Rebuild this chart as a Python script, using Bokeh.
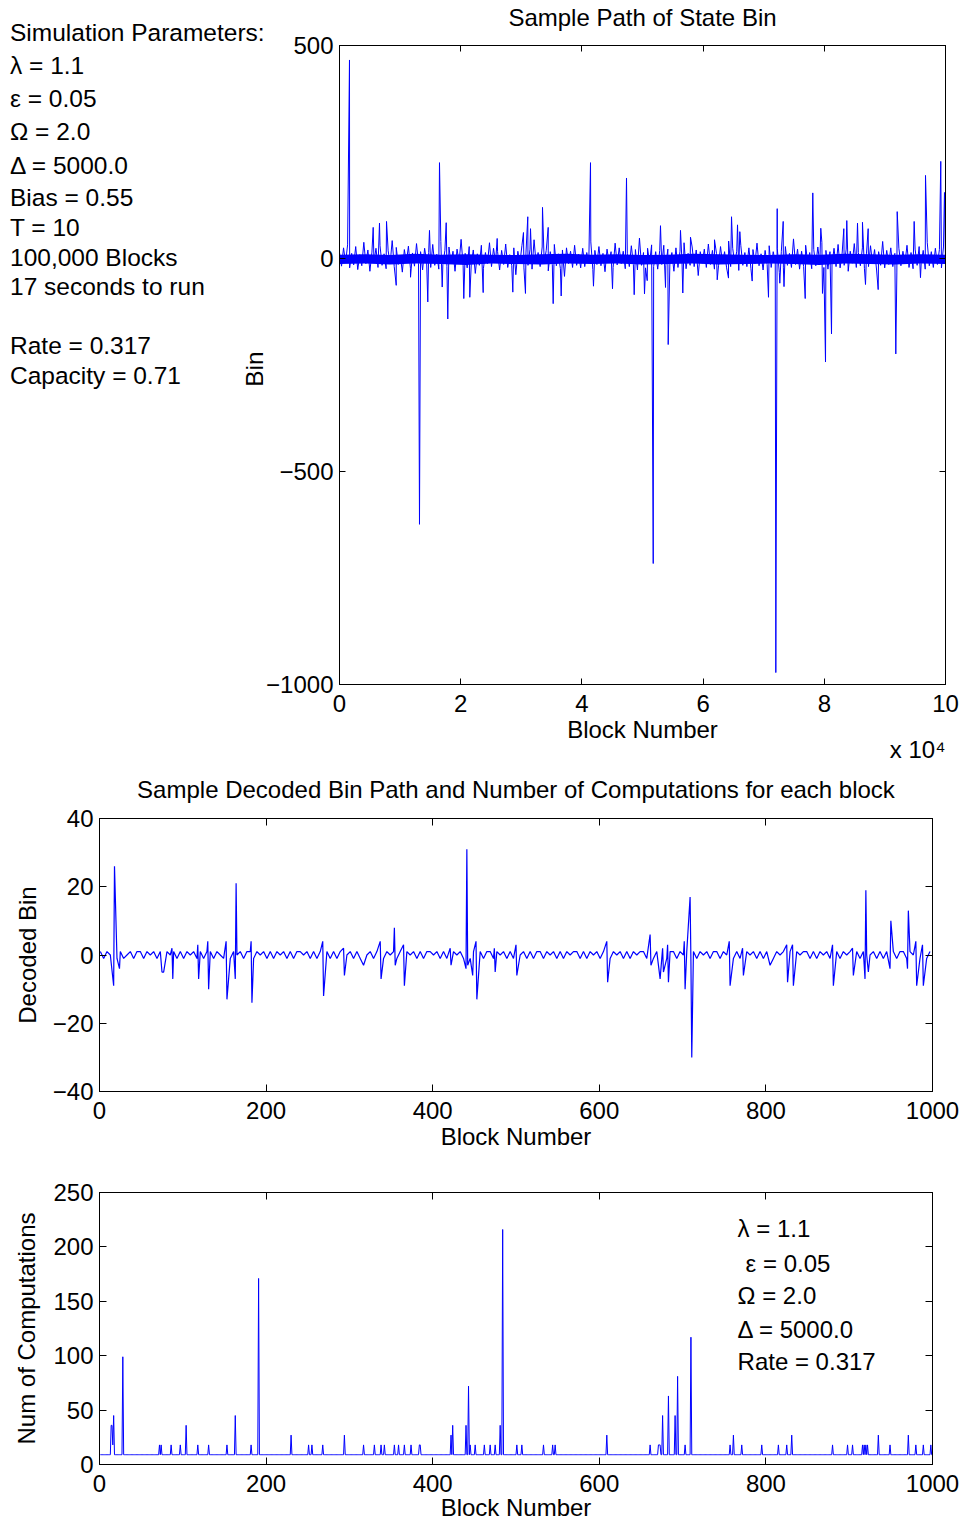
import numpy as np
from bokeh.plotting import figure
from bokeh.models import Range1d, LinearAxis, Label, FixedTicker, Div, Title
from bokeh.layouts import row
from bokeh.embed import file_html
from bokeh.resources import INLINE

FONT = "Liberation Sans"
BLUE = "#0000ff"

# ---------------- data: top panel (state bin sample path) ----------------
state_noise = [
    14, -18, 25, -10, 32, -22, 12, -15, 28, -26, 9, -17, 38, -12, 20, -30, 15, -8, 24, -21,
    30, -16, 11, -24, 18, -11, 42, -19, 26, -14, 8, -32, 21, -9, 29, -23, 13, -18, 35, -12,
    16, -27, 24, -8, 14, -21, 33, -16, 10, -25, 40, -14, 19, -19, 27, -11, 17, -30, 22, -9,
    45, -17, 12, -22, 28, -14, 20, -35, 11, -16, 31, -24, 14, -12, 37, -19, 24, -10, 16, -27,
    19, -14, 34, -21, 9, -17, 25, -38, 17, -11, 30, -22, 13, -16, 22, -25, 44, -12, 14, -19,
    27, -9, 19, -29, 16, -14, 33, -17, 11, -24, 20, -42, 25, -12, 17, -21, 31, -16, 10, -22,
    24, -19, 14, -11, 39, -26, 19, -14, 28, -17, 12, -31, 22, -9, 16, -21, 36, -15, 25, -12,
    17, -24, 11, -19, 30, -14, 21, -27, 48, -16, 14, -22, 24, -11, 32, -19, 16, -25, 19, -14,
    31, -17, 22, -12, 14, -30, 25, -21, 17, -9, 37, -24, 12, -16, 27, -19, 20, -40, 16, -11,
    22, -21, 34, -14, 19, -25, 12, -17, 28, -11, 16, -22, 41, -19, 24, -12, 17, -28, 31, -16,
    14, -19, 25, -24, 21, -12, 36, -17, 11, -27, 19, -14, 30, -21, 16, -9, 24, -33, 17, -22,
    28, -16, 12, -21, 46, -14, 22, -25, 17, -19, 31, -11, 14, -24, 21, -17, 27, -12, 38, -21,
    19, -25, 16, -14, 24, -19, 33, -22, 12, -16, 22, -30, 17, -11, 35, -21, 14, -17, 25, -24,
    11, -19, 30, -12, 21, -27, 16, -16, 40, -22, 19, -14, 25, -19, 12, -34, 24, -17, 17, -11,
    31, -21, 14, -24, 22, -16, 28, -12, 19, -25, 37, -17, 16, -21, 24, -14, 21, -22, 27, -8,
]
# solid core of the dense band (upper / lower edge)
state_core_hi = [9, 10, 8, 11, 9, 10, 9, 8, 10, 11, 9, 10, 8, 9, 11, 10, 9, 8, 10, 9, 11, 10, 9, 10, 9]
state_core_lo = [-13, -12, -14, -12, -13, -15, -12, -13, -14, -12, -13, -12, -14, -13, -12, -14,
                 -13, -12, -13, -15, -12, -13, -14, -12, -13]
state_spike_blocks = [
    1650, 5560, 6600, 7760, 9360, 11720, 13200, 14570, 14850, 16500, 16950, 17610, 17870,
    20510, 21500, 23710, 26020, 28600, 30360, 30690, 31070, 31520, 33500, 34440, 35260,
    36580, 41420, 41910, 45050, 47360, 48630, 50330, 50780, 51770, 52970, 53800, 54240,
    56270, 56650, 57920, 61880, 62330, 64190, 64690, 65680, 66060, 68100, 70790, 72000,
    72230, 72660, 73220, 73350, 76850, 78100, 79420, 79700, 80200, 81190, 83220, 83710,
    85480, 86300, 86800, 87240, 88890, 91800, 92030, 94830, 95870, 96700, 99220, 99830,
]
state_spike_bins = [
    466, 73, 83, 87, -63, -44, -624, -102, 66, 225, -67, 84, -142,
    -94, -91, -80, 47, -79, 61, -82, 98, 70, 120, 73, -106,
    -88, 225, -65, -71, 189, -85, -83, -52, -716, 77, -68, -202,
    66, -81, 50, 44, -50, -46, 98, 79, 63, -53, -91, -972,
    117, -58, 87, -66, -94, 154, 71, -82, -243, -177, 70, 89,
    83, 85, -61, 70, -73, -224, 110, 87, -45, 195, 228, 155,
]
top_xticks = [0, 20000, 40000, 60000, 80000, 100000]
top_xtick_labels = ["0", "2", "4", "6", "8", "10"]
top_yticks = [-1000, -500, 0, 500]
top_ytick_labels = ["\u22121000", "\u2212500", "0", "500"]
param_lines = [
    "Simulation Parameters:", "\u03bb = 1.1", "\u03b5 = 0.05", "\u03a9 = 2.0",
    "\u0394 = 5000.0", "Bias = 0.55", "T = 10", "100,000 Blocks", "17 seconds to run",
    "Rate = 0.317", "Capacity = 0.71",
]
param_line_rows = [34, 67, 100, 133, 167, 199, 229, 259, 288, 347, 377]

# ---------------- data: middle panel (decoded bin) ----------------
decoded_noise = [
    1, -1, 1, 0, 1, -1, 1, -1, 0, 1, -1, 1, 1, -1, 1, 0, 1, -1, 1, -1, 1, 0, 1, -1, 1,
    -1, 1, 0, 1, -1, 1, -1, 1, 1, -1, 1, 0, -1, 1, -1, 1, 0, 1, -1, 1, 1, -1, 1, 0, 1,
    -1, 1, -1, 1, 0, 1, -1, 1, -1, 1, 1, 0, 1, -1, 1, -1, 1, 0, 1, -1, 1, -1, 1, 1, 0,
    1, -1, 1, -1, 1, 0, 1, -1, 1, 1, -1, 1, 0, 1, -1, 1, -1, 1, 0, 1, -1, 1, -1, 1, 1,
    0, 1, -1, 1, -1, 1, 1, 0, 1, -1, 1, -1, 1, 0, 1, -1, 1, 1, -1, 1, 0, 1, -1, 1, -1,
    1, 0, 1, -1, 1, -1, 1, 1, -1, 1, 0, 1, -1, 1, -1, 1, 0, 1, 1, -1, 1, -1, 1, 0, 1,
    -1, 1, 1, -1, 1, 0, 1, -1, 1, -1, 1, 0, 1, 1, -1, 1, -1, 1, 0, 1, -1, 1, 1, -1, 1,
    0, 1, -1, 1, -1, 1, 0, 1, -1, 1, 1, -1, 1, 0, 1, -1, 1, -1, 1, 1, 0, 1, -1, 1, -1,
    1, 1, -1, 1, 0, 1, -1, 1, -1, 1, 0, 1, 1, -1, 1, -1, 1, 0, 1, -1, 1, 1, -1, 1, 0,
    1, -1, 1, -1, 1, 1, 0, 1, -1, 1, -1, 1, 0, 1, -1, 1, 1, -1, 1, 0, 1, -1, 1, -1, 1,
]
decoded_spike_blocks = [
    17, 18, 24, 75, 76, 77, 87, 88, 118, 119, 130, 131, 152, 153, 163, 164, 182, 183,
    268, 269, 293, 294, 317, 337, 338, 354, 355, 365, 366, 421, 422, 440, 441, 442, 448,
    452, 453, 474, 475, 500, 501, 609, 610, 661, 662, 673, 676, 677, 682, 683, 702, 703,
    709, 710, 711, 756, 757, 772, 773, 805, 825, 826, 832, 833, 880, 881, 904, 905, 919,
    920, 921, 923, 949, 950, 970, 971, 980, 981, 988, 989,
]
decoded_spike_bins = [
    -9, 26, -4, -5, -5, -5, 2, -7, 3, -7, 4, -10, 4, -13, -7, 21, 4, -14,
    4, -12, 2, -6, -3, 4, -7, 8, -3, 3, -9, 2, -3, -4, 31, -3, -6,
    4, -13, 2, -5, 3, -6, 4, -8, 6, -3, -7, 2, -5, 3, -8, 4, -10,
    17, -2, -30, 4, -9, 2, -6, -3, 3, -8, 3, -9, 3, -9, 2, -6, -7,
    19, 0, -5, -4, 10, -4, 13, 4, -9, 3, -9,
]
blk_xticks = [0, 200, 400, 600, 800, 1000]
mid_yticks = [-40, -20, 0, 20, 40]
mid_ytick_labels = ["\u221240", "\u221220", "0", "20", "40"]

# ---------------- data: bottom panel (computations) ----------------
comp_baseline = 9
comp_spike_blocks = [
    14, 15, 16, 17, 28, 72, 74, 86, 97, 104, 118, 131, 153, 163, 182, 191, 230, 251, 255,
    268, 294, 317, 330, 338, 342, 354, 359, 366, 374, 384, 385, 422, 424, 440, 443, 445,
    451, 462, 469, 475, 481, 484, 501, 507, 533, 544, 547, 609, 661, 671, 672, 673, 676,
    683, 691, 694, 703, 710, 757, 761, 771, 795, 815, 825, 831, 880, 898, 904, 916, 918,
    920, 922, 935, 949, 971, 980, 989, 998,
]
comp_spike_values = [
    36, 36, 18, 45, 99, 18, 18, 18, 18, 36, 18, 18, 18, 45, 18, 171, 27, 18, 18,
    18, 27, 18, 18, 18, 18, 18, 18, 18, 18, 18, 18, 27, 36, 36, 72, 18,
    18, 18, 18, 18, 36, 216, 18, 18, 18, 18, 18, 27, 18, 18, 18, 18, 45,
    63, 45, 81, 18, 117, 18, 27, 18, 18, 18, 18, 27, 18, 18, 18, 18, 18,
    18, 18, 27, 18, 27, 18, 18, 18,
]
bot_yticks = [0, 50, 100, 150, 200, 250]
bot_legend = ["\u03bb = 1.1", "\u03b5 = 0.05", "\u03a9 = 2.0", "\u0394 = 5000.0", "Rate = 0.317"]
bot_legend_y = [217, 185, 155, 124, 95]
bot_legend_indent = [0, 8, 0, 0, 0]

# ---------------- build series ----------------
sx = np.concatenate([np.linspace(0, 100000, len(state_noise)), state_spike_blocks])
sy = np.concatenate([state_noise, state_spike_bins]).astype(float)
o = np.argsort(sx, kind="stable")
sx, sy = sx[o], sy[o]
core_x = np.linspace(0, 100000, len(state_core_hi))

dec = dict(zip(range(1, 1001, 4), decoded_noise))
dec.update(dict(zip(decoded_spike_blocks, decoded_spike_bins)))
dx = np.array(sorted(dec))
dy = np.array([dec[k] for k in dx], dtype=float)

cx = np.arange(1, 1001)
cy = np.full(1000, float(comp_baseline))
for b, v in zip(comp_spike_blocks, comp_spike_values):
    cy[b - 1] = v


def make_fig(fw, fh, bl, br, bt, bb, xr, yr):
    p = figure(frame_width=fw, frame_height=fh, min_border_left=bl, min_border_right=br,
               min_border_top=bt, min_border_bottom=bb, x_range=xr, y_range=yr,
               output_backend="svg", toolbar_location=None)
    p.grid.visible = False
    p.outline_line_color = "black"
    p.outline_line_width = 1
    p.background_fill_color = "white"
    p.border_fill_color = "white"
    return p


def text_style(ax):
    ax.axis_label_text_font = FONT
    ax.axis_label_text_font_size = "24px"
    ax.axis_label_text_font_style = "normal"
    ax.axis_label_text_color = "black"


def style_axes(p, xticks, xlabels, yticks, ylabels, tick_len, xlab, ylab, ylab_standoff,
               xlab_standoff, title=None, title_standoff=0):
    for ax in (p.xaxis[0], p.yaxis[0]):
        ax.major_tick_in = tick_len
        ax.major_tick_out = 0
        ax.minor_tick_line_color = None
        ax.axis_line_color = "black"
        ax.major_tick_line_color = "black"
        ax.major_label_text_font = FONT
        ax.major_label_text_font_size = "24px"
        ax.major_label_text_color = "black"
        text_style(ax)
    p.xaxis[0].ticker = FixedTicker(ticks=xticks)
    p.xaxis[0].major_label_overrides = {t: s for t, s in zip(xticks, xlabels)}
    p.yaxis[0].ticker = FixedTicker(ticks=yticks)
    p.yaxis[0].major_label_overrides = {t: s for t, s in zip(yticks, ylabels)}
    p.xaxis[0].major_label_standoff = 10
    p.yaxis[0].major_label_standoff = 6
    p.xaxis[0].axis_label = xlab
    p.xaxis[0].axis_label_standoff = xlab_standoff
    if ylab:
        p.yaxis[0].axis_label = ylab
        p.yaxis[0].axis_label_standoff = ylab_standoff
    # mirrored tick marks on the top and right edges (no tick labels drawn);
    # the chart title sits on the top edge, centred over the frame
    for ticks, place in ((xticks, "above"), (yticks, "right")):
        ax = LinearAxis(ticker=FixedTicker(ticks=ticks), major_tick_in=tick_len,
                        major_tick_out=0, minor_tick_line_color=None,
                        major_label_text_font_size="1px", major_label_text_color=None,
                        major_label_standoff=0, axis_line_color="black",
                        major_tick_line_color="black")
        if place == "above" and title:
            ax.axis_label = title
            ax.axis_label_standoff = title_standoff
            text_style(ax)
        p.add_layout(ax, place)


# ---------------- top figure ----------------
p1 = make_fig(606, 639, 74, 15, 45, 77, Range1d(0, 100000), Range1d(-1000, 500))
style_axes(p1, top_xticks, top_xtick_labels, top_yticks, top_ytick_labels, 6,
           "Block Number", None, 0, 1, title="Sample Path of State Bin", title_standoff=15)
p1.varea(x=core_x, y1=state_core_lo, y2=state_core_hi, fill_color=BLUE)
p1.line(sx, sy, line_color=BLUE, line_width=1)
p1.add_layout(Title(text="x 10\u2074", align="right", text_font=FONT, text_font_size="24px",
                    text_font_style="normal", text_color="black", standoff=-35), "below")

lines_html = "".join(
    '<div style="position:absolute;left:10px;top:%dpx;height:30px;line-height:30px;'
    'white-space:nowrap;">%s</div>' % (r - 16, t)
    for t, r in zip(param_lines, param_line_rows)
)
bin_html = ('<div style="position:absolute;left:225px;top:354px;width:60px;height:30px;'
            'line-height:30px;text-align:center;transform:rotate(-90deg);">Bin</div>')
side = Div(
    text='<div style="position:relative;width:263px;height:761px;font-family:\'Liberation Sans\';'
         'font-size:24.5px;color:#000;">' + lines_html + bin_html + '</div>',
    width=263, height=761, margin=(0, 0, 0, 0),
)
top_row = row(side, p1)

# ---------------- middle figure ----------------
p2 = make_fig(833, 273, 99, 29, 57, 74, Range1d(0, 1000), Range1d(-40, 40))
style_axes(p2, blk_xticks, [str(t) for t in blk_xticks], mid_yticks, mid_ytick_labels, 7,
           "Block Number", "Decoded Bin", 9, 1,
           title="Sample Decoded Bin Path and Number of Computations for each block",
           title_standoff=16)
p2.line(dx, dy, line_color=BLUE, line_width=1.2)

# ---------------- bottom figure ----------------
p3 = make_fig(833, 272, 99, 29, 27, 57, Range1d(0, 1000), Range1d(0, 250))
style_axes(p3, blk_xticks, [str(t) for t in blk_xticks], bot_yticks,
           [str(t) for t in bot_yticks], 7, "Block Number", "Num of Computations", 10, -1)
p3.line(cx, cy, line_color=BLUE, line_width=1)
for txt, yv, ind in zip(bot_legend, bot_legend_y, bot_legend_indent):
    p3.add_layout(Label(x=766, y=yv, x_offset=ind, text=txt, text_font=FONT,
                        text_font_size="24px", text_baseline="middle", text_align="left",
                        text_color="black"))

open("out.html", "w").write(file_html([top_row, p2, p3], INLINE))
